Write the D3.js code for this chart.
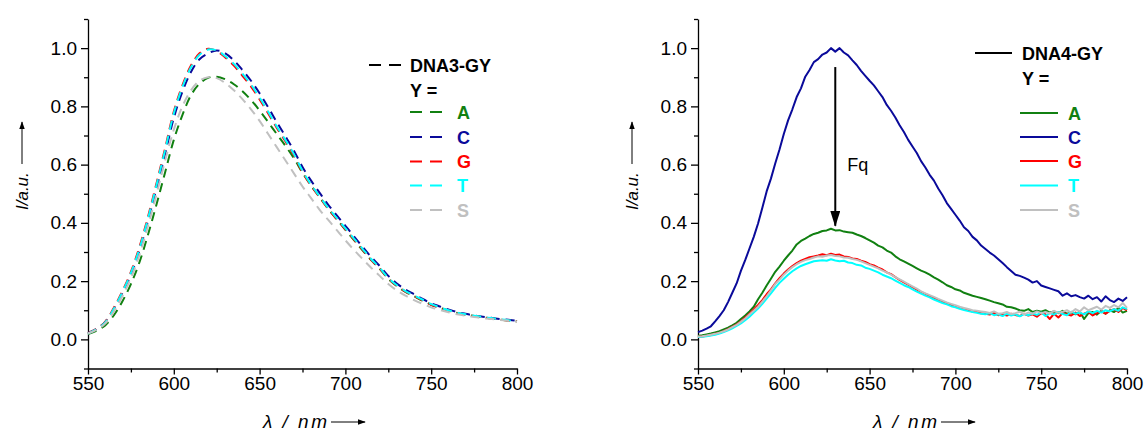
<!DOCTYPE html>
<html>
<head>
<meta charset="utf-8">
<script src="https://cdn.jsdelivr.net/npm/d3@7"></script>
<style>
  body { margin: 0; background: #fff; }
  svg { display: block; font-family: "Liberation Sans", Arial, sans-serif; }
</style>
</head>
<body>
<svg id="chart" width="1146" height="432"></svg>
<script>
// sampling grid (nm)
const leftStart = 550, leftStep = 5;
const rightStart = 550, rightStep = 2.5;

const seriesNames = ["A", "C", "G", "T", "S"];
const seriesColors = ["#118011", "#0a0a9a", "#ff0000", "#00ffff", "#c0c0c0"];

const yTicks = [0.0, 0.2, 0.4, 0.6, 0.8, 1.0];
const yMinor = [-0.1, 0.1, 0.3, 0.5, 0.7, 0.9, 1.1];
const xTicks = [550, 600, 650, 700, 750, 800];
const xMinor = [575, 625, 675, 725, 775];

// DNA3-GY, dashed (5 nm step)
const leftA = [0.018,0.030,0.048,0.082,0.130,0.190,0.265,0.360,0.465,0.575,0.685,0.770,0.838,0.878,0.898,0.902,0.893,0.876,0.852,0.822,0.786,0.746,0.705,0.665,0.622,0.572,0.528,0.488,0.448,0.412,0.376,0.341,0.306,0.272,0.242,0.208,0.183,0.163,0.148,0.133,0.119,0.108,0.099,0.091,0.085,0.080,0.076,0.072,0.068,0.065,0.062];
const leftC = [0.022,0.036,0.060,0.104,0.158,0.222,0.305,0.408,0.520,0.638,0.760,0.850,0.918,0.962,0.982,0.992,0.982,0.958,0.925,0.888,0.845,0.797,0.746,0.698,0.648,0.592,0.545,0.503,0.462,0.426,0.390,0.354,0.318,0.283,0.252,0.218,0.192,0.171,0.155,0.139,0.124,0.113,0.103,0.094,0.088,0.082,0.078,0.074,0.070,0.067,0.064];
const leftG = [0.021,0.036,0.060,0.108,0.165,0.232,0.318,0.422,0.538,0.658,0.782,0.872,0.940,0.982,0.998,0.990,0.968,0.940,0.905,0.868,0.824,0.776,0.726,0.680,0.632,0.574,0.528,0.488,0.448,0.413,0.378,0.343,0.308,0.273,0.243,0.209,0.184,0.164,0.149,0.134,0.119,0.109,0.099,0.091,0.085,0.080,0.076,0.072,0.068,0.065,0.062];
const leftT = [0.020,0.035,0.058,0.105,0.162,0.228,0.312,0.416,0.532,0.652,0.776,0.866,0.934,0.977,0.995,0.992,0.972,0.946,0.912,0.875,0.830,0.782,0.731,0.685,0.636,0.578,0.531,0.491,0.451,0.416,0.381,0.346,0.311,0.276,0.246,0.211,0.186,0.166,0.151,0.136,0.121,0.110,0.100,0.092,0.086,0.081,0.077,0.073,0.069,0.066,0.063];
const leftS = [0.020,0.033,0.054,0.095,0.148,0.210,0.290,0.390,0.500,0.615,0.720,0.800,0.855,0.888,0.900,0.897,0.880,0.855,0.825,0.790,0.750,0.705,0.660,0.615,0.570,0.525,0.485,0.445,0.410,0.375,0.340,0.307,0.276,0.246,0.218,0.190,0.168,0.150,0.135,0.122,0.110,0.101,0.093,0.086,0.081,0.077,0.073,0.070,0.067,0.064,0.061];

// DNA4-GY, solid (2.5 nm step)
const rightA = [0.012,0.014,0.017,0.020,0.024,0.028,0.034,0.040,0.048,0.057,0.070,0.082,0.096,0.112,0.138,0.160,0.185,0.208,0.232,0.250,0.270,0.288,0.305,0.326,0.338,0.346,0.355,0.362,0.366,0.372,0.374,0.380,0.374,0.375,0.370,0.368,0.366,0.360,0.355,0.348,0.340,0.332,0.322,0.316,0.305,0.298,0.285,0.275,0.268,0.260,0.252,0.244,0.236,0.230,0.222,0.213,0.205,0.196,0.186,0.180,0.172,0.168,0.160,0.155,0.150,0.146,0.142,0.138,0.133,0.128,0.124,0.120,0.112,0.110,0.106,0.100,0.098,0.104,0.094,0.098,0.095,0.100,0.092,0.096,0.090,0.098,0.088,0.092,0.086,0.095,0.070,0.090,0.094,0.085,0.098,0.088,0.100,0.094,0.108,0.092,0.098];
const rightC = [0.025,0.030,0.037,0.045,0.062,0.080,0.100,0.128,0.160,0.192,0.235,0.272,0.312,0.352,0.398,0.452,0.508,0.552,0.604,0.652,0.705,0.752,0.790,0.832,0.862,0.902,0.925,0.952,0.962,0.978,0.985,1.000,0.988,1.000,0.985,0.975,0.958,0.942,0.922,0.905,0.888,0.872,0.852,0.832,0.805,0.785,0.762,0.735,0.712,0.685,0.662,0.640,0.612,0.590,0.565,0.545,0.518,0.495,0.468,0.448,0.428,0.408,0.385,0.372,0.352,0.340,0.322,0.310,0.298,0.288,0.275,0.262,0.248,0.235,0.222,0.218,0.212,0.205,0.195,0.200,0.185,0.180,0.175,0.170,0.165,0.150,0.158,0.148,0.152,0.145,0.140,0.150,0.138,0.145,0.130,0.148,0.135,0.128,0.140,0.132,0.145];
const rightG = [0.008,0.010,0.012,0.015,0.019,0.022,0.028,0.035,0.043,0.052,0.062,0.075,0.088,0.103,0.118,0.135,0.155,0.172,0.192,0.210,0.226,0.240,0.252,0.262,0.270,0.276,0.282,0.285,0.288,0.292,0.289,0.294,0.290,0.291,0.285,0.283,0.278,0.276,0.270,0.266,0.258,0.254,0.246,0.240,0.230,0.224,0.214,0.204,0.196,0.188,0.179,0.171,0.163,0.156,0.149,0.142,0.134,0.130,0.122,0.118,0.112,0.108,0.104,0.100,0.096,0.094,0.090,0.088,0.085,0.090,0.083,0.086,0.082,0.088,0.084,0.080,0.088,0.082,0.086,0.078,0.090,0.086,0.070,0.088,0.075,0.090,0.086,0.082,0.092,0.080,0.088,0.094,0.082,0.090,0.096,0.088,0.098,0.104,0.094,0.108,0.100];
const rightT = [0.008,0.009,0.011,0.013,0.016,0.020,0.025,0.031,0.038,0.046,0.055,0.066,0.078,0.092,0.106,0.122,0.140,0.158,0.177,0.194,0.208,0.222,0.234,0.244,0.252,0.258,0.263,0.268,0.270,0.272,0.270,0.275,0.271,0.268,0.270,0.264,0.262,0.256,0.254,0.246,0.242,0.236,0.230,0.222,0.216,0.210,0.202,0.194,0.186,0.180,0.172,0.164,0.157,0.150,0.144,0.137,0.131,0.125,0.120,0.114,0.110,0.105,0.101,0.097,0.094,0.091,0.088,0.086,0.090,0.083,0.086,0.080,0.088,0.082,0.086,0.079,0.087,0.083,0.089,0.084,0.092,0.080,0.090,0.085,0.094,0.087,0.083,0.095,0.088,0.092,0.086,0.096,0.090,0.098,0.092,0.100,0.096,0.104,0.098,0.110,0.104];
const rightS = [0.010,0.011,0.013,0.016,0.019,0.023,0.028,0.034,0.042,0.050,0.060,0.072,0.085,0.098,0.112,0.130,0.148,0.168,0.190,0.205,0.222,0.236,0.248,0.258,0.266,0.272,0.276,0.281,0.285,0.284,0.288,0.290,0.286,0.285,0.281,0.280,0.276,0.273,0.268,0.262,0.256,0.250,0.244,0.236,0.230,0.222,0.214,0.206,0.198,0.190,0.182,0.174,0.165,0.158,0.152,0.146,0.139,0.133,0.127,0.122,0.117,0.112,0.108,0.104,0.100,0.098,0.096,0.094,0.091,0.096,0.088,0.090,0.094,0.087,0.090,0.095,0.086,0.092,0.088,0.096,0.090,0.094,0.089,0.098,0.091,0.095,0.100,0.092,0.104,0.096,0.110,0.100,0.106,0.112,0.102,0.115,0.108,0.118,0.110,0.125,0.108];

const leftSeries = [leftA, leftC, leftG, leftT, leftS];
const rightSeries = [rightA, rightC, rightG, rightT, rightS];

const svg = d3.select("#chart");
const font = "'Liberation Sans', Arial, sans-serif";

const defs = svg.append("defs");
defs.append("marker")
    .attr("id", "axArrow")
    .attr("viewBox", "0 0 10 10")
    .attr("refX", 9).attr("refY", 5)
    .attr("markerWidth", 8).attr("markerHeight", 8)
    .attr("markerUnits", "userSpaceOnUse")
    .attr("orient", "auto")
    .append("path")
    .attr("d", "M0,1.5 L10,5 L0,8.5 Z")
    .attr("fill", "#000");

function drawPanel(p){
    const xScale = d3.scaleLinear([550, 800], [p.x0, p.x0 + 429]);
    const yScale = d3.scaleLinear([-0.1, 1.1], [368.5, 19]);

    const g = svg.append("g");

    // minor ticks first, then main axes
    g.append("g")
        .attr("transform", `translate(${p.x0}, 0)`)
        .call(d3.axisLeft(yScale).tickValues(yMinor).tickSize(4).tickFormat(""))
        .call(s => s.select(".domain").remove());
    g.append("g")
        .attr("transform", `translate(0, ${yScale(-0.1)})`)
        .call(d3.axisBottom(xScale).tickValues(xMinor).tickSize(4).tickFormat(""))
        .call(s => s.select(".domain").remove());

    g.append("g")
        .attr("transform", `translate(${p.x0}, 0)`)
        .call(d3.axisLeft(yScale).tickValues(yTicks).tickSize(7).tickSizeOuter(0)
            .tickPadding(4).tickFormat(d3.format(".1f")))
        .call(s => s.selectAll("text").attr("font-size", 19).attr("font-family", font).attr("fill", "#000"));

    g.append("g")
        .attr("transform", `translate(0, ${yScale(-0.1)})`)
        .call(d3.axisBottom(xScale).tickValues(xTicks).tickSize(6).tickSizeOuter(0).tickPadding(2))
        .call(s => s.selectAll("text").attr("font-size", 19).attr("font-family", font).attr("fill", "#000"));

    g.selectAll(".domain, .tick line").attr("stroke", "#000").attr("stroke-width", 1.3);

    // curves
    const line = d3.line()
        .x((d, i) => xScale(p.start + i * p.step))
        .y(d => yScale(d))
        .curve(p.curve);

    p.series.forEach((s, i) => {
        g.append("path")
            .datum(s)
            .attr("d", line)
            .attr("fill", "none")
            .attr("stroke", seriesColors[i])
            .attr("stroke-width", 2)
            .attr("stroke-dasharray", p.dash)
            .attr("stroke-linejoin", "round");
    });

    // y label
    const yl = g.append("g").attr("transform", `translate(${p.x0 - 60}, 210) rotate(-90)`);
    yl.append("text")
        .attr("x", 0).attr("y", 0)
        .attr("font-size", 17).attr("font-style", "italic").attr("font-family", font)
        .text("I/a.u.");
    yl.append("line")
        .attr("x1", 46).attr("y1", -6).attr("x2", 88).attr("y2", -6)
        .attr("stroke", "#000").attr("stroke-width", 1)
        .attr("marker-end", "url(#axArrow)");

    // x label
    const xl = g.append("g").attr("transform", `translate(${p.x0 + 175}, 428)`);
    xl.append("text")
        .attr("font-size", 19).attr("font-style", "italic").attr("font-family", font)
        .attr("textLength", 64).attr("lengthAdjust", "spacing")
        .text("λ / nm");
    xl.append("line")
        .attr("x1", 68).attr("y1", -6).attr("x2", 102).attr("y2", -6)
        .attr("stroke", "#000").attr("stroke-width", 1)
        .attr("marker-end", "url(#axArrow)");

    // legend
    const lg = g.append("g");
    lg.append("line")
        .attr("x1", p.leg.hx1).attr("x2", p.leg.hx2)
        .attr("y1", p.leg.hy).attr("y2", p.leg.hy)
        .attr("stroke", "#000").attr("stroke-width", 2.2)
        .attr("stroke-dasharray", p.legDash);
    lg.append("text")
        .attr("x", p.leg.tx).attr("y", p.leg.hy + 6.5)
        .attr("font-size", 18).attr("font-weight", "bold").attr("font-family", font)
        .text(p.title);
    lg.append("text")
        .attr("x", p.leg.tx).attr("y", p.leg.hy + 31.5)
        .attr("font-size", 18).attr("font-weight", "bold").attr("font-family", font)
        .text("Y =");
    seriesNames.forEach((n, i) => {
        const cy = p.leg.rows[i];
        lg.append("line")
            .attr("x1", p.leg.sx1).attr("x2", p.leg.sx2)
            .attr("y1", cy).attr("y2", cy)
            .attr("stroke", seriesColors[i]).attr("stroke-width", 2.2)
            .attr("stroke-dasharray", p.legDash);
        lg.append("text")
            .attr("x", p.leg.lx).attr("y", cy + 6.5)
            .attr("font-size", 18).attr("font-weight", "bold").attr("font-family", font)
            .attr("fill", seriesColors[i])
            .text(n);
    });

    return {xScale, yScale, g};
}

drawPanel({
    x0: 88, start: leftStart, step: leftStep, series: leftSeries,
    curve: d3.curveCatmullRom, dash: "9,6", legDash: "12,8",
    title: "DNA3-GY",
    leg: {hx1: 369, hx2: 402, hy: 65, tx: 410, sx1: 410, sx2: 443, lx: 457,
          rows: [112, 137, 161.5, 185.5, 210]}
});

const right = drawPanel({
    x0: 698, start: rightStart, step: rightStep, series: rightSeries,
    curve: d3.curveLinear, dash: null, legDash: null,
    title: "DNA4-GY",
    leg: {hx1: 975, hx2: 1012, hy: 53, tx: 1022, sx1: 1020, sx2: 1058, lx: 1068,
          rows: [113, 137, 161, 185.5, 210]}
});

// quench arrow
defs.append("marker")
    .attr("id", "fqArrow")
    .attr("viewBox", "0 0 10 16")
    .attr("refX", 5).attr("refY", 15)
    .attr("markerWidth", 10).attr("markerHeight", 16)
    .attr("markerUnits", "userSpaceOnUse")
    .attr("orient", "0")
    .append("path")
    .attr("d", "M0,0 L10,0 L5,16 Z")
    .attr("fill", "#000");

right.g.append("line")
    .attr("x1", right.xScale(630)).attr("x2", right.xScale(630))
    .attr("y1", right.yScale(0.935)).attr("y2", right.yScale(0.39))
    .attr("stroke", "#000").attr("stroke-width", 2)
    .attr("marker-end", "url(#fqArrow)");
right.g.append("text")
    .attr("x", right.xScale(637)).attr("y", 171)
    .attr("font-size", 18).attr("font-family", font)
    .text("Fq");
</script>
</body>
</html>
